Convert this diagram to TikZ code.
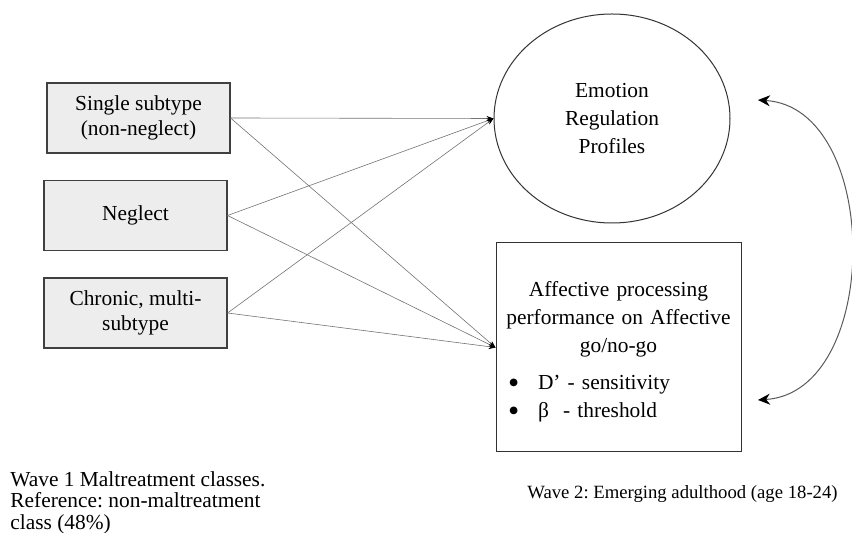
\documentclass[tikz,border=0pt]{standalone}
\usepackage{fontspec}
\setmainfont{Liberation Serif}
\usetikzlibrary{shapes.geometric,arrows.meta}
\frenchspacing

\tikzstyle{classbox} = [draw=black!75, fill=black!7, line width=0.55pt, minimum width=91.5pt, minimum height=35pt, align=center, font=\fontsize{10.7}{12.5}\selectfont, node distance=48.75pt]
\tikzstyle{outcome} = [draw=black!80, line width=0.5pt, align=center, font=\fontsize{10.7}{14}\selectfont]
\tikzstyle{arrow} = [-{Stealth[black, length=3.5pt, width=2.5pt]}, draw=black!55, line width=0.3pt]
\tikzstyle{bothways} = [{Stealth[black, length=6pt, width=5.5pt]}-{Stealth[black, length=6pt, width=5.5pt]}, draw=black!65, line width=0.5pt]
\tikzstyle{plain} = [font=\fontsize{10.7}{10.85}\selectfont, inner sep=0pt]
\newcommand{\bulletline}[1]{\makebox[\linewidth][l]{\hspace*{2pt}\makebox[15pt][l]{\raisebox{-2pt}{\fontsize{16}{14}\selectfont\textbullet}}#1}}

\begin{document}
\begin{tikzpicture}[x=0.5pt, y=-0.5pt]
  \useasboundingbox (0,0) rectangle (852,533);

  \node[classbox](single) at (138.5,118) {Single subtype\\(non-neglect)};
  \node[classbox, below of = single, xshift=-1.5pt](neglect) {Neglect};
  \node[classbox, below of = neglect](chronic) {Chronic, multi-\\subtype};

  \node[outcome, ellipse, minimum width=118pt, minimum height=104.5pt](profiles) at (612,118.5) {Emotion\\Regulation\\Profiles};
  \node[outcome, rectangle, minimum width=122.5pt, minimum height=104.5pt](affect) at (618.5,347.5) {};
  \node[anchor=north, align=center, inner sep=0pt, text width=114.5pt, font=\fontsize{10.7}{14}\selectfont](affecttext) at (618.5,281)
    {Affective processing\\performance on Affective\\go/no-go\\[4.5pt]
     \bulletline{D’ - sensitivity}\\
     \bulletline{β\ \ - threshold}};

  \draw[arrow] (single.east) to (profiles.west);
  \draw[arrow] (neglect.east) to (profiles.west);
  \draw[arrow] (chronic.east) to (profiles.west);
  \draw[arrow] (single.east) to (affect.west);
  \draw[arrow] (neglect.east) to (affect.west);
  \draw[arrow] (chronic.east) to (affect.west);

  \coordinate (topend) at (758,100);
  \coordinate (botend) at (758,400);
  \draw[bothways] (topend) .. controls (882,108) and (882,392) .. (botend);

  \node[plain, anchor=north west, align=left](wave1) at (10,471) {Wave 1 Maltreatment classes.\\Reference: non-maltreatment\\class (48\%)};
  \node[plain, anchor=base west, font=\fontsize{9.35}{10.5}\selectfont](wave2) at (527,499) {Wave 2: Emerging adulthood (age 18-24)};

\end{tikzpicture}
\end{document}
